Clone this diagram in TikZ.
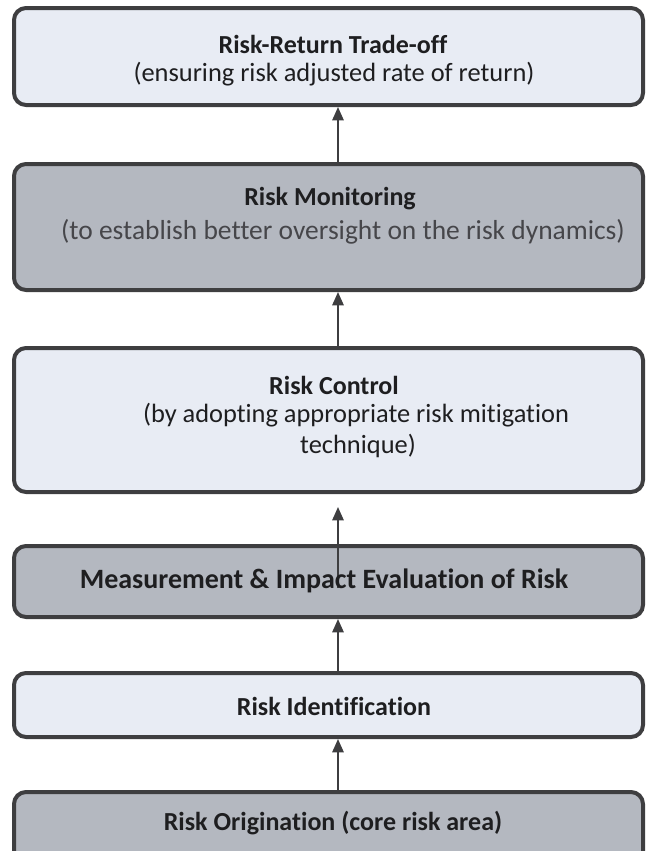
\documentclass[tikz,border=0pt]{standalone}
\usepackage{fontspec}
\setmainfont{Carlito}[Ligatures=NoCommon]
\usetikzlibrary{arrows.meta,fit}
\definecolor{lightfill}{RGB}{232,236,244}
\definecolor{darkfill}{RGB}{180,184,192}
\definecolor{edgecol}{RGB}{62,62,64}
\definecolor{ink}{RGB}{30,30,32}
\definecolor{softink}{RGB}{70,70,74}
\begin{document}
\begin{tikzpicture}[x=0.75pt,y=-0.75pt,
  boxbase/.style={draw=edgecol, line width=3pt, rounded corners=9pt, inner sep=0pt},
  lightbox/.style={boxbase, fill=lightfill},
  darkbox/.style={boxbase, fill=darkfill},
  txt/.style={inner sep=0pt, text=ink, font=\fontsize{19.8}{23}\selectfont},
  ttl/.style={inner sep=0pt, text=ink, font=\fontsize{19.5}{23}\selectfont\bfseries},
  arr/.style={line width=1.3pt, draw=edgecol, -{Triangle[length=10pt,width=8.5pt]}}]
\useasboundingbox (0,0) rectangle (646,851);
\clip (0,0) rectangle (646,851);
% boxes
\node[lightbox, fit={(14,8)(643,105)}] (b1) {};
\node[darkbox, fit={(14,164)(643,290)}] (b2) {};
\node[lightbox, fit={(14,348)(643,492)}] (b3) {};
\node[darkbox, fit={(14,546)(643,617)}] (b4) {};
\node[lightbox, fit={(14,673)(643,737)}] (b5) {};
\node[darkbox, fit={(14,792)(643,880)}] (b6) {};
% connectors
\coordinate (ax) at (338,0);
\coordinate (m4) at (338,588);
\coordinate (tip3) at (338,507);
\draw[arr] (b2.north -| ax) -- (b1.south -| ax);
\draw[arr] (b3.north -| ax) -- (b2.south -| ax);
\draw[arr] (m4) -- (tip3);
\draw[arr] (b5.north -| ax) -- (b4.south -| ax);
\draw[arr] (b6.north -| ax) -- (b5.south -| ax);
% texts
\node[ttl] (t1) at (333,44) {Risk-Return Trade-off};
\node[txt] (s1) at (334,74) {(ensuring risk adjusted rate of return)};
\node[ttl] (t2) at (330,199) {Risk Monitoring};
\node[txt, text=softink, font=\fontsize{20.6}{24}\selectfont] (s2) at (343,232) {(to establish better oversight on the risk dynamics)};
\node[ttl] (t3) at (334,385) {Risk Control};
\node[txt] (s3a) at (356,415) {(by adopting appropriate risk mitigation};
\node[txt] (s3b) at (358,446) {technique)};
\node[ttl, font=\fontsize{21}{24}\selectfont\bfseries] (t4) at (324,581) {Measurement \& Impact Evaluation of Risk};
\node[ttl] (t5) at (334,706) {Risk Identification};
\node[ttl] (t6) at (333,823) {Risk Origination (core risk area)};
\end{tikzpicture}
\end{document}
